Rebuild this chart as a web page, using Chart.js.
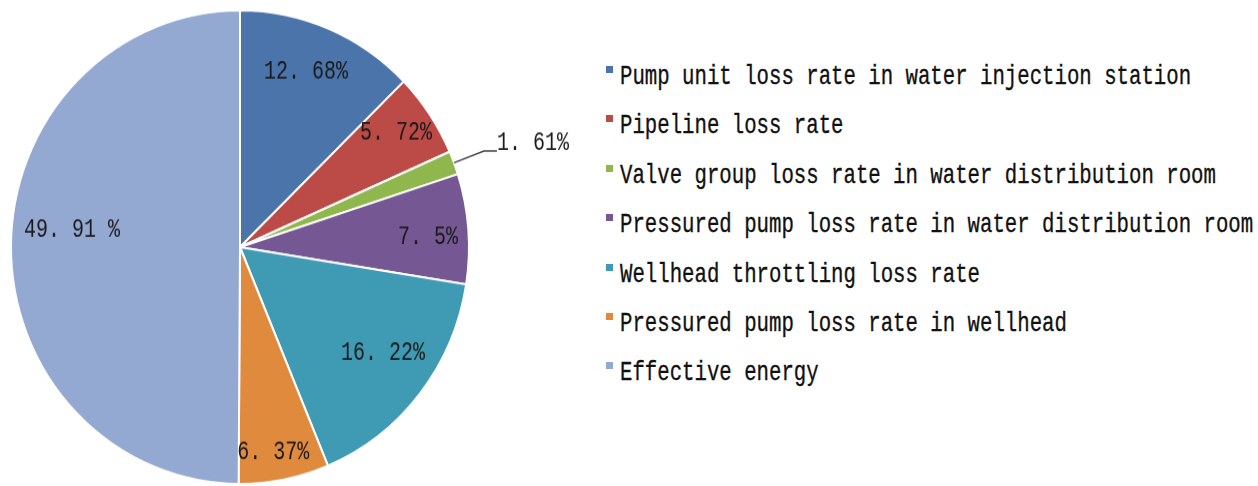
<!DOCTYPE html>
<html>
<head>
<meta charset="utf-8">
<script src="https://cdn.jsdelivr.net/npm/chart.js@4.4.1/dist/chart.umd.min.js"></script>
<style>
  html, body { margin: 0; padding: 0; background: #fff; }
  #wrap { position: relative; width: 1258px; height: 486px; overflow: hidden; }
  #pie { position: absolute; left: 0; top: 0; }
  .swatch { position: absolute; left: 606px; width: 7px; height: 7px; }
  .txt {
    position: absolute; left: 620px; white-space: nowrap;
    font: 20.7px/21px "Liberation Mono", monospace; color: #111;
    -webkit-text-stroke: 0.25px #111;
    transform: scaleY(1.3); transform-origin: 0 0;
  }
</style>
</head>
<body>
<div id="wrap">
  <canvas id="pie" width="600" height="470" style="width:600px;height:486px"></canvas>
  <div id="legend"></div>
</div>
<script>
// energy loss breakdown (%)
const categories = [
  'Pump unit loss rate in water injection station',
  'Pipeline loss rate',
  'Valve group loss rate in water distribution room',
  'Pressured pump loss rate in water distribution room',
  'Wellhead throttling loss rate',
  'Pressured pump loss rate in wellhead',
  'Effective energy'
];
const values = [12.68, 5.72, 1.61, 7.5, 16.22, 6.37, 49.91];
const colors = ['#4a74aa', '#bc4a47', '#8fb74d', '#755893', '#3f9bb3', '#e08a3d', '#94a9d2'];
// the last label prints a space before the % sign
const pctGap = ['', '', '', '', '', '', ' '];

// label placement per slice: [fraction of radius, angle nudge in degrees]; null = outside with leader line
const labelPos = [[0.794, -1.5], [0.834, -1.2], null, [0.822, 1.5], [0.768, -2.6], [0.876, 1.6], [0.737, 5.4]];

// draws "12.68%" with a wide gap after the decimal point
function drawLabel(ctx, text, left, cy, cw) {
  const dot = text.indexOf('.');
  const head = dot < 0 ? text : text.slice(0, dot + 1);
  const tail = dot < 0 ? '' : text.slice(dot + 1);
  ctx.save();
  ctx.translate(left, cy);
  ctx.scale(1, 1.26);
  ctx.fillText(head, 0, 0);
  if (tail) ctx.fillText(tail, ctx.measureText(head).width + cw, 0);
  ctx.restore();
}

const sliceLabels = {
  id: 'sliceLabels',
  afterDatasetsDraw(chart) {
    const { ctx } = chart;
    const arcs = chart.getDatasetMeta(0).data;
    ctx.save();
    ctx.font = '20px "Liberation Mono"';
    ctx.fillStyle = '#1a1a1a';
    ctx.textBaseline = 'middle';
    ctx.textAlign = 'left';
    const cw = ctx.measureText('0').width;
    arcs.forEach((arc, i) => {
      const { x, y, startAngle, endAngle, outerRadius } =
        arc.getProps(['x', 'y', 'startAngle', 'endAngle', 'outerRadius'], true);
      const mid = (startAngle + endAngle) / 2;
      const text = String(values[i]) + pctGap[i] + '%';
      const w = ctx.measureText(text).width + (text.includes('.') ? cw : 0);
      const pos = labelPos[i];
      if (pos) {
        const a = mid + pos[1] * Math.PI / 180;
        const r = outerRadius * pos[0];
        drawLabel(ctx, text, x + Math.cos(a) * r - w / 2, y + Math.sin(a) * r, cw);
      } else {
        // thin slice: leader line out to the right
        const x0 = x + Math.cos(mid) * outerRadius;
        const y0 = y + Math.sin(mid) * outerRadius;
        const x1 = x + Math.cos(mid) * outerRadius * 1.14;
        const y1 = y + Math.sin(mid) * outerRadius * 1.14;
        ctx.strokeStyle = '#444';
        ctx.lineWidth = 1.5;
        ctx.beginPath();
        ctx.moveTo(x0, y0);
        ctx.lineTo(x1, y1);
        ctx.lineTo(x1 + 13, y1);
        ctx.stroke();
        drawLabel(ctx, text, x1 + 13, y1 - 8, cw);
      }
    });
    ctx.restore();
  }
};

new Chart(document.getElementById('pie'), {
  type: 'pie',
  data: {
    labels: categories,
    datasets: [{
      data: values,
      backgroundColor: colors,
      borderColor: '#fff',
      borderWidth: 2,
      radius: 229
    }]
  },
  options: {
    responsive: false,
    animation: false,
    events: [],
    // keeps the pie centred at x=240 while leaving room for the outside label
    layout: { padding: { left: 11, right: 131, top: 10, bottom: 2 } },
    plugins: {
      legend: { display: false },
      tooltip: { enabled: false }
    }
  },
  plugins: [sliceLabels]
});

// legend on the right
const legend = document.getElementById('legend');
categories.forEach((name, i) => {
  const top = 66 + i * 49.4;
  const sw = document.createElement('div');
  sw.className = 'swatch';
  sw.style.top = top + 'px';
  sw.style.background = colors[i];
  const t = document.createElement('div');
  t.className = 'txt';
  t.style.top = (top - 3) + 'px';
  t.textContent = name;
  legend.appendChild(sw);
  legend.appendChild(t);
});
</script>
</body>
</html>
